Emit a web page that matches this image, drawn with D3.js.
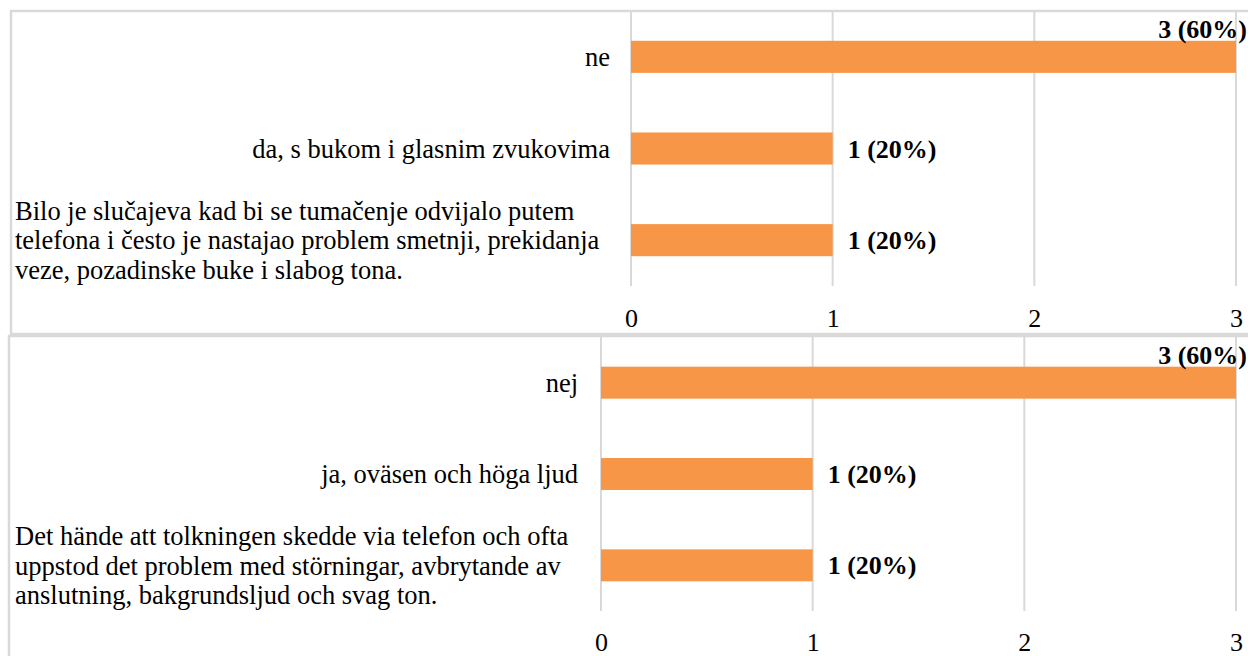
<!DOCTYPE html>
<html>
<head>
<meta charset="utf-8">
<script src="https://cdn.jsdelivr.net/npm/d3@7"></script>
<style>
  html, body { margin: 0; padding: 0; background: #fff; }
</style>
</head>
<body>
<div id="chart"></div>
<script>
// data
var topCategories = [
  ['ne'],
  ['da, s bukom i glasnim zvukovima'],
  ['Bilo je slučajeva kad bi se tumačenje odvijalo putem',
   'telefona i često je nastajao problem smetnji, prekidanja',
   'veze, pozadinske buke i slabog tona.']
];
var topValues = [3, 1, 1];
var topLabels = ['3 (60%)', '1 (20%)', '1 (20%)'];

var bottomCategories = [
  ['nej'],
  ['ja, oväsen och höga ljud'],
  ['Det hände att tolkningen skedde via telefon och ofta',
   'uppstod det problem med störningar, avbrytande av',
   'anslutning, bakgrundsljud och svag ton.']
];
var bottomValues = [3, 1, 1];
var bottomLabels = ['3 (60%)', '1 (20%)', '1 (20%)'];

var xTicks = [0, 1, 2, 3];

(function() {
  var width = 1248;
  var height = 656;
  var gridColor = '#d9d9d9';
  var barColor = '#f79646';
  var font = '"Liberation Serif"';

  var svg = d3.select('#chart').append('svg')
    .attr('width', width)
    .attr('height', height);

  // two stacked chart boxes, placed the way the source page had them
  var panels = [
    { cats: topCategories, vals: topValues, labels: topLabels,
      boxX: 11, boxY: 11, boxH: 323,
      x0: 631, x1: 1236, y0: 11, y1: 286, labelRight: 610, wrapLeft: 15, tickY: 318 },
    { cats: bottomCategories, vals: bottomValues, labels: bottomLabels,
      boxX: 9, boxY: 336, boxH: 330,
      x0: 601, x1: 1236, y0: 337, y1: 611, labelRight: 578, wrapLeft: 15, tickY: 642 }
  ];

  panels.forEach(drawPanel);

  function drawPanel(p) {
    var g = svg.append('g');

    // chart area border
    g.append('rect')
      .attr('x', p.boxX)
      .attr('y', p.boxY)
      .attr('width', width + 20)
      .attr('height', p.boxH)
      .attr('fill', 'none')
      .attr('stroke', gridColor)
      .attr('stroke-width', 2.5);

    var x = d3.scaleLinear().domain([0, 3]).range([p.x0, p.x1]);
    var idx = d3.range(p.cats.length);
    var y = d3.scaleBand().domain(idx).range([p.y0, p.y1]).paddingInner(0.65).paddingOuter(0.325);

    // vertical gridlines
    g.selectAll('.grid')
      .data(xTicks)
      .enter().append('line')
      .attr('x1', function(d) { return x(d); })
      .attr('x2', function(d) { return x(d); })
      .attr('y1', p.y0)
      .attr('y2', p.y1)
      .attr('stroke', gridColor)
      .attr('stroke-width', 2);

    // tick labels along the bottom
    var axis = d3.axisBottom(x).tickValues(xTicks).tickFormat(d3.format('d')).tickSize(0).tickPadding(0);
    var ax = g.append('g')
      .attr('transform', 'translate(0,' + p.tickY + ')')
      .call(axis);
    ax.select('.domain').remove();
    ax.attr('font-family', null).attr('font-size', null);
    ax.selectAll('text')
      .attr('dy', '0.35em')
      .style('font-size', '26px')
      .style('font-family', font)
      .attr('fill', '#000');

    // bars
    g.selectAll('.bar')
      .data(p.vals)
      .enter().append('rect')
      .attr('x', x(0))
      .attr('y', function(d, i) { return y(i); })
      .attr('width', function(d) { return x(d) - x(0); })
      .attr('height', y.bandwidth())
      .attr('fill', barColor);

    // category labels, wrapped ones are left aligned like in the source
    p.cats.forEach(function(lines, i) {
      var cy = y(i) + y.bandwidth() / 2;
      var wrapped = lines.length > 1;
      var t = g.append('text')
        .style('font-size', '26.5px')
        .style('font-family', font)
        .attr('fill', '#000')
        .attr('text-anchor', wrapped ? 'start' : 'end');
      lines.forEach(function(line, k) {
        t.append('tspan')
          .attr('x', wrapped ? p.wrapLeft : p.labelRight)
          .attr('y', cy + (k - (lines.length - 1) / 2) * 29.5)
          .attr('dy', '0.35em')
          .text(line);
      });
    });

    // value labels
    g.selectAll('.value')
      .data(p.vals)
      .enter().append('text')
      .style('font-size', '26px')
      .style('font-family', font)
      .style('font-weight', 'bold')
      .attr('fill', '#000')
      .attr('text-anchor', function(d) { return d === 3 ? 'end' : 'start'; })
      .attr('x', function(d) { return d === 3 ? x(d) + 11 : x(d) + 15; })
      .attr('y', function(d, i) {
        return d === 3 ? y(i) - 3 : y(i) + y.bandwidth() / 2;
      })
      .attr('dy', function(d) { return d === 3 ? 0 : '0.35em'; })
      .text(function(d, i) { return p.labels[i]; });
  }
})();
</script>
</body>
</html>
